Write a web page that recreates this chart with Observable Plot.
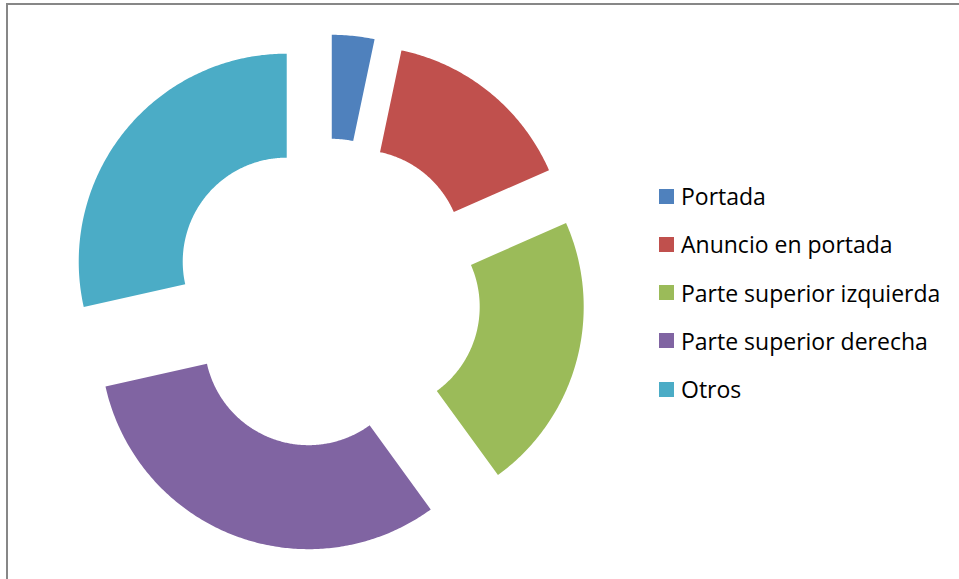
<!DOCTYPE html>
<html>
<head>
<meta charset="utf-8">
<script src="https://cdn.jsdelivr.net/npm/d3@7"></script>
<script src="https://cdn.jsdelivr.net/npm/@observablehq/plot@0.6"></script>
<style>
  html, body { margin: 0; padding: 0; background: #fff; }
  #wrap { position: relative; width: 959px; height: 579px; overflow: hidden; }
  #frame { position: absolute; left: 6px; top: 3px; width: 960px; height: 600px;
           border-top: 2px solid #878787; border-left: 2px solid #878787; box-sizing: border-box; }
  #chart { position: absolute; left: 0; top: 0; }
  #legend { position: absolute; left: 659px; top: 172px; font-family: "Open Sans", sans-serif;
            font-size: 23px; color: #000; }
  .item { display: flex; align-items: center; height: 48.25px; }
  .sw { width: 15px; height: 15px; margin-right: 7px; flex: none; }
</style>
</head>
<body>
<div id="wrap">
  <div id="frame"></div>
  <div id="chart"></div>
  <div id="legend"></div>
</div>
<script>
const categories = ["Portada", "Anuncio en portada", "Parte superior izquierda", "Parte superior derecha", "Otros"];
const values = [3.3, 15.1, 21.6, 31.5, 28.5];
const colors = ["#4F81BD", "#C0504D", "#9BBB59", "#8064A2", "#4BACC6"];

// layout (pixels)
const W = 959, H = 579;
const cx = 326, cy = 293, Rpx = 208;
const inner = 0.5;      // hole size as fraction of radius
const explode = 0.245;  // explosion as fraction of radius

const total = d3.sum(values);
const rows = [];
let acc = 0;
categories.forEach((c, i) => {
  const a0 = acc / total * 2 * Math.PI;
  acc += values[i];
  const a1 = acc / total * 2 * Math.PI;
  const m = (a0 + a1) / 2;
  const ox = explode * Math.sin(m), oy = explode * Math.cos(m);
  const n = Math.max(8, Math.ceil((a1 - a0) / 0.01));
  for (let k = 0; k <= n; k++) {
    const t = a0 + (a1 - a0) * k / n;
    rows.push({category: c, x: ox + Math.sin(t), y: oy + Math.cos(t)});
  }
  for (let k = n; k >= 0; k--) {
    const t = a0 + (a1 - a0) * k / n;
    rows.push({category: c, x: ox + inner * Math.sin(t), y: oy + inner * Math.cos(t)});
  }
});

const plot = Plot.plot({
  width: W, height: H,
  margin: 0,
  x: {domain: [-cx / Rpx, (W - cx) / Rpx], range: [0, W], axis: null},
  y: {domain: [-(H - cy) / Rpx, cy / Rpx], range: [H, 0], axis: null},
  color: {domain: categories, range: colors},
  style: {background: "transparent"},
  marks: [
    Plot.line(rows, {x: "x", y: "y", z: "category", fill: "category", stroke: null, curve: "linear-closed"})
  ]
});
document.getElementById("chart").appendChild(plot);

const legend = document.getElementById("legend");
categories.forEach((c, i) => {
  const it = document.createElement("div");
  it.className = "item";
  const sw = document.createElement("span");
  sw.className = "sw";
  sw.style.background = colors[i];
  const tx = document.createElement("span");
  tx.textContent = c;
  it.appendChild(sw); it.appendChild(tx);
  legend.appendChild(it);
});
</script>
</body>
</html>
